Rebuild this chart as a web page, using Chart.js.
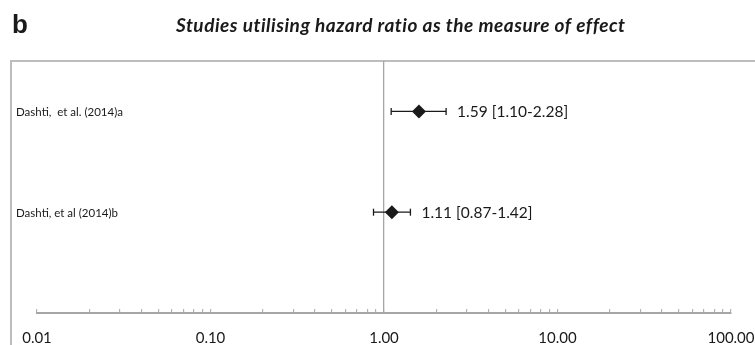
<!DOCTYPE html>
<html>
<head>
<meta charset="utf-8">
<script src="https://cdn.jsdelivr.net/npm/chart.js@4.4.1/dist/chart.umd.min.js"></script>
<style>
  html, body { margin: 0; padding: 0; background: #ffffff; }
  #wrap { position: relative; width: 755px; height: 345px; }
</style>
</head>
<body>
<div id="wrap"><canvas id="c" width="755" height="345"></canvas></div>
<script>
// ---- data ----
const studies = ['Dashti,  et al. (2014)a', 'Dashti, et al (2014)b'];
const hr      = [1.59, 1.11];
const ciLow   = [1.10, 0.87];
const ciHigh  = [2.28, 1.42];
const hrText  = ['1.59 [1.10-2.28]', '1.11 [0.87-1.42]'];
const majorTicks = [0.01, 0.1, 1, 10, 100];
const tickLabels = ['0.01', '0.10', '1.00', '10.00', '100.00'];
const minorSteps = [2, 3, 4, 5, 6, 7, 8, 9];
const panelLetter = 'b';
const titleText = 'Studies utilising hazard ratio as the measure of effect';

// row positions (top study highest)
const rowY = studies.map((s, i) => studies.length - i);

// tick list
const allTicks = [];
majorTicks.forEach((m, i) => {
  allTicks.push({ value: m, major: true });
  if (i < majorTicks.length - 1) minorSteps.forEach(s => allTicks.push({ value: +(m * s).toPrecision(3), major: false }));
});

const GREY = '#a6a6a6';
const INK = '#1a1a1a';
const FONT = 'Lato, "Open Sans", "DejaVu Sans", sans-serif';

const datasets = [];
studies.forEach((s, i) => {
  datasets.push({
    label: s + ' CI',
    data: [{ x: ciLow[i], y: rowY[i] }, { x: ciHigh[i], y: rowY[i] }],
    showLine: true,
    borderColor: INK,
    borderWidth: 1.3,
    pointStyle: 'line',
    pointRotation: 90,
    pointRadius: 3.5,
    pointBorderWidth: 1.3,
    pointBorderColor: INK,
    pointHoverRadius: 3.5
  });
});
datasets.push({
  label: 'HR',
  data: studies.map((s, i) => ({ x: hr[i], y: rowY[i] })),
  showLine: false,
  pointStyle: 'rectRot',
  pointRadius: 7,
  pointHoverRadius: 7,
  backgroundColor: INK,
  borderColor: INK,
  borderWidth: 0
});

const decor = {
  id: 'decor',
  beforeDraw(chart) {
    const ctx = chart.ctx;
    ctx.save();
    ctx.strokeStyle = '#bdbdbd';
    ctx.lineWidth = 2;
    ctx.beginPath();
    ctx.moveTo(11, 345);
    ctx.lineTo(11, chart.chartArea.top);
    ctx.lineTo(755, chart.chartArea.top);
    ctx.stroke();
    ctx.restore();
  },
  afterDatasetsDraw(chart) {
    const ctx = chart.ctx;
    const xs = chart.scales.x, ys = chart.scales.y;
    ctx.save();
    ctx.fillStyle = INK;
    ctx.textBaseline = 'alphabetic';
    ctx.textAlign = 'left';
    ctx.font = 'bold 26px "Liberation Sans", Arial, sans-serif';
    ctx.fillText(panelLetter, 12, 33);
    ctx.font = 'italic bold 19px ' + FONT;
    try { ctx.letterSpacing = '0.5px'; } catch (e) {}
    ctx.fillText(titleText, 176, 32);
    try { ctx.letterSpacing = '0px'; } catch (e) {}
    ctx.textBaseline = 'middle';
    studies.forEach((s, i) => {
      const y = ys.getPixelForValue(rowY[i]);
      ctx.font = '11.5px ' + FONT;
      ctx.fillText(s, 16, y + 1);
      ctx.font = '15.5px ' + FONT;
      ctx.fillText(hrText[i], xs.getPixelForValue(ciHigh[i]) + 11, y + 1);
    });
    ctx.restore();
  }
};

new Chart(document.getElementById('c'), {
  type: 'scatter',
  data: { datasets },
  plugins: [decor],
  options: {
    responsive: false,
    animation: false,
    events: [],
    layout: { padding: { left: 37, right: 24, top: 61, bottom: 0 } },
    plugins: { legend: { display: false }, tooltip: { enabled: false }, title: { display: false } },
    scales: {
      x: {
        type: 'logarithmic',
        min: 0.01,
        max: 100,
        afterBuildTicks: s => { s.ticks = allTicks.map(t => ({ value: t.value, major: t.major })); },
        afterFit: s => { s.height = 32; s.paddingLeft = 0; s.paddingRight = 0; },
        ticks: {
          autoSkip: false,
          maxRotation: 0,
          padding: 20,
          color: INK,
          font: { family: FONT, size: 15 },
          callback: (v) => {
            const k = majorTicks.indexOf(v);
            return k >= 0 ? tickLabels[k] : '';
          }
        },
        grid: {
          drawOnChartArea: true,
          drawTicks: true,
          tickLength: -4,
          tickWidth: 1,
          tickColor: GREY,
          lineWidth: 1.3,
          color: c => (c.tick && c.tick.value === 1) ? GREY : 'rgba(0,0,0,0)'
        },
        border: { display: true, color: GREY, width: 2 }
      },
      y: {
        type: 'linear',
        min: 0,
        max: 2.5,
        display: false
      }
    }
  }
});
</script>
</body>
</html>
